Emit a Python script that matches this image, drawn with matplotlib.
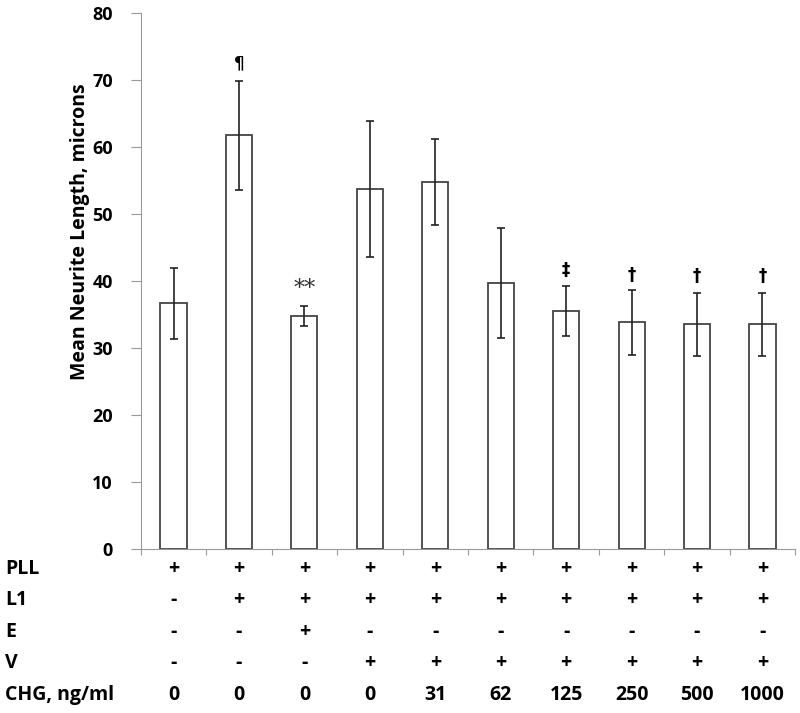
import matplotlib.pyplot as plt
import matplotlib.transforms as mtransforms
import numpy as np

# Data
means = [36.7, 61.7, 34.7, 53.7, 54.8, 39.7, 35.5, 33.8, 33.5, 33.5]
errors = [5.3, 8.2, 1.5, 10.2, 6.4, 8.2, 3.7, 4.8, 4.7, 4.7]
marks = ['', '\u00b6', '**', '', '', '', '\u2021', '\u2020', '\u2020', '\u2020']
mark_y = [0, 72.5, 38.8, 0, 0, 0, 41.6, 40.9, 40.7, 40.7]

row_names = ['PLL', 'L1', 'E', 'V', 'CHG, ng/ml']
rows = [
    ['+'] * 10,
    ['-'] + ['+'] * 9,
    ['-', '-', '+', '-', '-', '-', '-', '-', '-', '-'],
    ['-', '-', '-'] + ['+'] * 7,
    ['0', '0', '0', '0', '31', '62', '125', '250', '500', '1000'],
]

plt.rcParams['font.family'] = ['Open Sans', 'DejaVu Sans']

fig = plt.figure(figsize=(8, 7.13), dpi=100)
ax = fig.add_axes([0.176, 0.230, 0.818, 0.752])

x = np.arange(len(means))
ax.bar(x, means, width=0.4, color='white', edgecolor='#444444', linewidth=1.3)
ax.errorbar(x, means, yerr=errors, fmt='none', ecolor='#222222',
            elinewidth=1.2, capsize=3, capthick=1.2)

# significance marks
for xi, m, my in zip(x, marks, mark_y):
    if m:
        if m == '**':
            ax.text(xi, my, m, ha='center', va='center', fontsize=16,
                    color='#333333', family=['DejaVu Serif'])
        else:
            ax.text(xi, my, m, ha='center', va='center', fontsize=12,
                    fontweight='bold', family=['DejaVu Sans'])

ax.set_xlim(-0.5, 9.5)
ax.set_ylim(0, 80)
ax.set_yticks(range(0, 81, 10))
ax.set_xticks(np.arange(-0.5, 10, 1))
ax.set_xticklabels([])
ax.tick_params(axis='x', direction='out', length=4, color='#999999')
ax.tick_params(axis='y', direction='out', length=7, color='#999999',
               labelsize=13, pad=13)
for lbl in ax.get_yticklabels():
    lbl.set_fontweight('bold')

for side in ['top', 'right']:
    ax.spines[side].set_visible(False)
for side in ['left', 'bottom']:
    ax.spines[side].set_color('#999999')

ax.set_ylabel('Mean Neurite Length, microns', fontsize=14, fontweight='bold')
ax.yaxis.set_label_coords(-0.078, 0.591)

# condition table under the axis
trans = mtransforms.blended_transform_factory(ax.transData, fig.transFigure)
row_y = [569, 600, 632, 663, 695]
for name, vals, py in zip(row_names, rows, row_y):
    yf = 1 - py / 713
    fig.text(0.006, yf, name, ha='left', va='center', fontsize=14,
             fontweight='bold')
    for xi, v in zip(x, vals):
        ax.text(xi, yf, v, transform=trans, ha='center', va='center',
                fontsize=14, fontweight='bold', clip_on=False)

fig.savefig('out.png')
